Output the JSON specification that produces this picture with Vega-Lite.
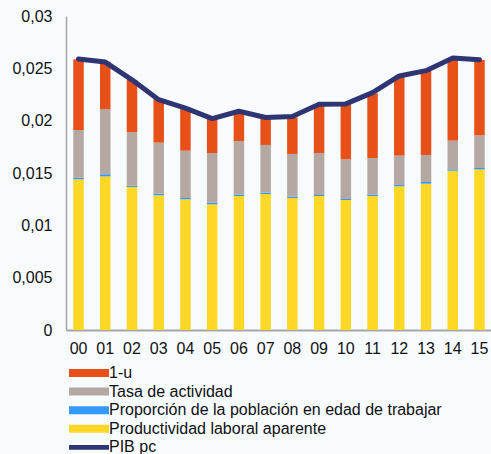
{
  "$schema": "https://vega.github.io/schema/vega-lite/v6.json",
  "width": 426,
  "height": 314,
  "autosize": {"type": "none"},
  "padding": {"left": 66, "top": 16, "right": 0, "bottom": 124},
  "background": "#f7fbfe",
  "config": {
    "view": {"stroke": null},
    "font": "Liberation Sans",
    "axis": {"labelFont": "Liberation Sans", "labelColor": "#111111", "labelFontSize": 16, "grid": false, "ticks": false, "title": null, "domainColor": "#a6a6a6"}
  },
  "datasets": {
    "comp": [
      {"a":"00","serie":"Productividad laboral aparente","v":0.0144},
      {"a":"00","serie":"Proporción de la población en edad de trabajar","v":0.00015},
      {"a":"00","serie":"Tasa de actividad","v":0.00456},
      {"a":"00","serie":"1-u","v":0.00675},
      {"a":"01","serie":"Productividad laboral aparente","v":0.01468},
      {"a":"01","serie":"Proporción de la población en edad de trabajar","v":0.0002},
      {"a":"01","serie":"Tasa de actividad","v":0.00623},
      {"a":"01","serie":"1-u","v":0.00453},
      {"a":"02","serie":"Productividad laboral aparente","v":0.01366},
      {"a":"02","serie":"Proporción de la población en edad de trabajar","v":0.00013},
      {"a":"02","serie":"Tasa de actividad","v":0.0051},
      {"a":"02","serie":"1-u","v":0.005},
      {"a":"03","serie":"Productividad laboral aparente","v":0.01287},
      {"a":"03","serie":"Proporción de la población en edad de trabajar","v":0.00016},
      {"a":"03","serie":"Tasa de actividad","v":0.00487},
      {"a":"03","serie":"1-u","v":0.00414},
      {"a":"04","serie":"Productividad laboral aparente","v":0.01249},
      {"a":"04","serie":"Proporción de la población en edad de trabajar","v":0.00012},
      {"a":"04","serie":"Tasa de actividad","v":0.00452},
      {"a":"04","serie":"1-u","v":0.00405},
      {"a":"05","serie":"Productividad laboral aparente","v":0.01201},
      {"a":"05","serie":"Proporción de la población en edad de trabajar","v":0.00015},
      {"a":"05","serie":"Tasa de actividad","v":0.00475},
      {"a":"05","serie":"1-u","v":0.00331},
      {"a":"06","serie":"Productividad laboral aparente","v":0.0128},
      {"a":"06","serie":"Proporción de la población en edad de trabajar","v":0.00013},
      {"a":"06","serie":"Tasa de actividad","v":0.00513},
      {"a":"06","serie":"1-u","v":0.0028},
      {"a":"07","serie":"Productividad laboral aparente","v":0.01299},
      {"a":"07","serie":"Proporción de la población en edad de trabajar","v":0.00013},
      {"a":"07","serie":"Tasa de actividad","v":0.00456},
      {"a":"07","serie":"1-u","v":0.00254},
      {"a":"08","serie":"Productividad laboral aparente","v":0.01261},
      {"a":"08","serie":"Proporción de la población en edad de trabajar","v":0.00013},
      {"a":"08","serie":"Tasa de actividad","v":0.00408},
      {"a":"08","serie":"1-u","v":0.0035},
      {"a":"09","serie":"Productividad laboral aparente","v":0.0128},
      {"a":"09","serie":"Proporción de la población en edad de trabajar","v":0.0001},
      {"a":"09","serie":"Tasa de actividad","v":0.00401},
      {"a":"09","serie":"1-u","v":0.00449},
      {"a":"10","serie":"Productividad laboral aparente","v":0.01242},
      {"a":"10","serie":"Proporción de la población en edad de trabajar","v":0.0001},
      {"a":"10","serie":"Tasa de actividad","v":0.00379},
      {"a":"10","serie":"1-u","v":0.00525},
      {"a":"11","serie":"Productividad laboral aparente","v":0.0128},
      {"a":"11","serie":"Proporción de la población en edad de trabajar","v":0.00013},
      {"a":"11","serie":"Tasa de actividad","v":0.0035},
      {"a":"11","serie":"1-u","v":0.00618},
      {"a":"12","serie":"Productividad laboral aparente","v":0.01373},
      {"a":"12","serie":"Proporción de la población en edad de trabajar","v":0.00012},
      {"a":"12","serie":"Tasa de actividad","v":0.00281},
      {"a":"12","serie":"1-u","v":0.00754},
      {"a":"13","serie":"Productividad laboral aparente","v":0.01398},
      {"a":"13","serie":"Proporción de la población en edad de trabajar","v":0.00016},
      {"a":"13","serie":"Tasa de actividad","v":0.00258},
      {"a":"13","serie":"1-u","v":0.00803},
      {"a":"14","serie":"Productividad laboral aparente","v":0.01522},
      {"a":"14","serie":"Proporción de la población en edad de trabajar","v":0.00013},
      {"a":"14","serie":"Tasa de actividad","v":0.00274},
      {"a":"14","serie":"1-u","v":0.00771},
      {"a":"15","serie":"Productividad laboral aparente","v":0.01535},
      {"a":"15","serie":"Proporción de la población en edad de trabajar","v":0.00013},
      {"a":"15","serie":"Tasa de actividad","v":0.00312},
      {"a":"15","serie":"1-u","v":0.0072}
    ],
    "pib": [
      {"a":"00","v":0.0259},{"a":"01","v":0.0256},{"a":"02","v":0.0239},{"a":"03","v":0.0220},
      {"a":"04","v":0.0212},{"a":"05","v":0.0202},{"a":"06","v":0.0209},{"a":"07","v":0.0203},
      {"a":"08","v":0.0204},{"a":"09","v":0.02156},{"a":"10","v":0.0216},{"a":"11","v":0.02268},
      {"a":"12","v":0.02427},{"a":"13","v":0.02478},{"a":"14","v":0.02599},{"a":"15","v":0.02583}
    ]
  },
  "encoding": {
    "x": {
      "field": "a", "type": "ordinal",
      "scale": {"paddingInner": 0.607, "paddingOuter": 0.272},
      "axis": {"labelAngle": 0, "labelPadding": 10, "domainWidth": 2}
    },
    "y": {
      "field": "v", "type": "quantitative",
      "scale": {"domain": [0, 0.03], "nice": false},
      "axis": {"values": [0, 0.005, 0.01, 0.015, 0.02, 0.025, 0.03], "labelExpr": "replace(format(datum.value, '~g'), '.', ',')", "labelPadding": 14, "domainWidth": 1.5}
    }
  },
  "layer": [
    {
      "data": {"name": "comp"},
      "transform": [
        {"calculate": "indexof(['Productividad laboral aparente','Proporción de la población en edad de trabajar','Tasa de actividad','1-u'], datum.serie)", "as": "k"}
      ],
      "mark": {"type": "bar"},
      "encoding": {
        "y": {"field": "v", "type": "quantitative", "stack": "zero"},
        "order": {"field": "k", "type": "quantitative"},
        "color": {
          "field": "serie", "type": "nominal",
          "scale": {
            "domain": ["1-u", "Tasa de actividad", "Proporción de la población en edad de trabajar", "Productividad laboral aparente", "PIB pc"],
            "range": ["#e8501a", "#b5a8a2", "#3399ff", "#ffd726", "#2e3572"]
          },
          "legend": {
            "orient": "none", "legendX": 15, "legendY": 349, "title": null, "direction": "vertical",
            "symbolType": "M-5,-1H5V1H-5Z", "symbolSize": 64, "symbolStrokeWidth": 0,
            "labelFont": "Liberation Sans", "labelFontSize": 16, "labelColor": "#111111", "labelOffset": 12, "rowPadding": 2.6, "labelLimit": 450,
            "encode": {
              "symbols": {
                "update": {
                  "fill": {"scale": "color", "field": "value"},
                  "opacity": {"value": 1},
                  "shape": [
                    {"test": "datum.value === 'PIB pc'", "value": "M-5,-0.6H5V0.6H-5Z"},
                    {"value": "M-5,-1H5V1H-5Z"}
                  ]
                }
              }
            }
          }
        }
      }
    },
    {
      "data": {"name": "pib"},
      "mark": {"type": "line", "strokeWidth": 5, "strokeCap": "round", "strokeJoin": "round"},
      "encoding": {
        "color": {"datum": "PIB pc", "type": "nominal"}
      }
    }
  ]
}
